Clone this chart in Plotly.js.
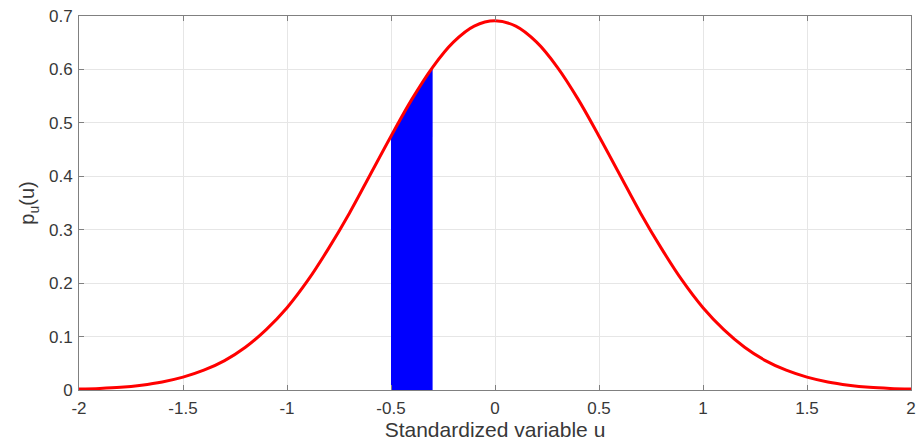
<!DOCTYPE html>
<html>
<head>
<meta charset="utf-8">
<script src="https://cdn.plot.ly/plotly-3.0.1.min.js"></script>
<style>html,body{margin:0;padding:0;background:#fff;}#chart{width:916px;height:448px;}</style>
</head>
<body>
<div id="chart"></div>
<script>
// Curve values
const uValues = [-2.0,-1.9,-1.8,-1.7,-1.6,-1.5,-1.4,-1.3,-1.2,-1.1,-1.0,-0.9,-0.8,-0.7,-0.6,-0.5,-0.4,-0.3,-0.2,-0.1,0.0,
                 0.1,0.2,0.3,0.4,0.5,0.6,0.7,0.8,0.9,1.0,1.1,1.2,1.3,1.4,1.5,1.6,1.7,1.8,1.9,2.0];
const pValues = [0.002,0.003,0.005,0.009,0.015,0.024,0.037,0.055,0.080,0.113,0.154,0.205,0.265,0.331,0.403,0.475,0.544,0.604,0.651,0.681,0.691,
                 0.681,0.651,0.604,0.544,0.475,0.403,0.331,0.265,0.205,0.154,0.113,0.080,0.055,0.037,0.024,0.015,0.009,0.005,0.003,0.002];
// Shaded band
const bandU = [-0.5,-0.4,-0.3];
const bandP = [0.475,0.544,0.604];
// Tick labels
const xTickVals = [-2,-1.5,-1,-0.5,0,0.5,1,1.5,2];
const xTickText = ["-2","-1.5","-1","-0.5","0","0.5","1","1.5","2"];
const yTickVals = [0,0.1,0.2,0.3,0.4,0.5,0.6,0.7];
const yTickText = ["0","0.1","0.2","0.3","0.4","0.5","0.6","0.7"];

const fam = 'Arial, "Liberation Sans", sans-serif';
const font = {family: fam, size: 17, color: '#383838'};

const traces = [
  {x: bandU, y: bandP, type: 'scatter', mode: 'lines', fill: 'tozeroy',
   fillcolor: '#0000ff', line: {color: '#0000ff', width: 0.5, shape: 'spline'}, hoverinfo: 'skip'},
  {x: uValues, y: pValues, type: 'scatter', mode: 'lines',
   line: {color: '#ff0000', width: 3, shape: 'spline'}}
];

const axisCommon = {
  showline: true, linecolor: '#808080', linewidth: 1, mirror: 'ticks',
  ticks: 'inside', ticklen: 5, tickcolor: '#808080', tickwidth: 1,
  showgrid: true, gridcolor: '#e6e6e6', gridwidth: 1, zeroline: false,
  tickfont: font
};

const layout = {
  width: 916, height: 448,
  margin: {l: 79, r: 5, t: 16, b: 58},
  paper_bgcolor: '#ffffff', plot_bgcolor: '#ffffff',
  showlegend: false,
  font: font,
  xaxis: Object.assign({}, axisCommon, {
    range: [-2, 2], tickmode: 'array', tickvals: xTickVals, ticktext: xTickText,
    ticklabelstandoff: 3,
    title: {text: 'Standardized variable u', font: {family: fam, size: 21, color: '#383838'}, standoff: 0}
  }),
  yaxis: Object.assign({}, axisCommon, {
    range: [0, 0.7], tickmode: 'array', tickvals: yTickVals, ticktext: yTickText,
    ticklabelstandoff: 2,
    title: {text: 'p<sub>u</sub>(u)', font: {family: fam, size: 20, color: '#383838'}, standoff: 8}
  })
};

Plotly.newPlot('chart', traces, layout, {displayModeBar: false, staticPlot: true});
</script>
</body>
</html>
